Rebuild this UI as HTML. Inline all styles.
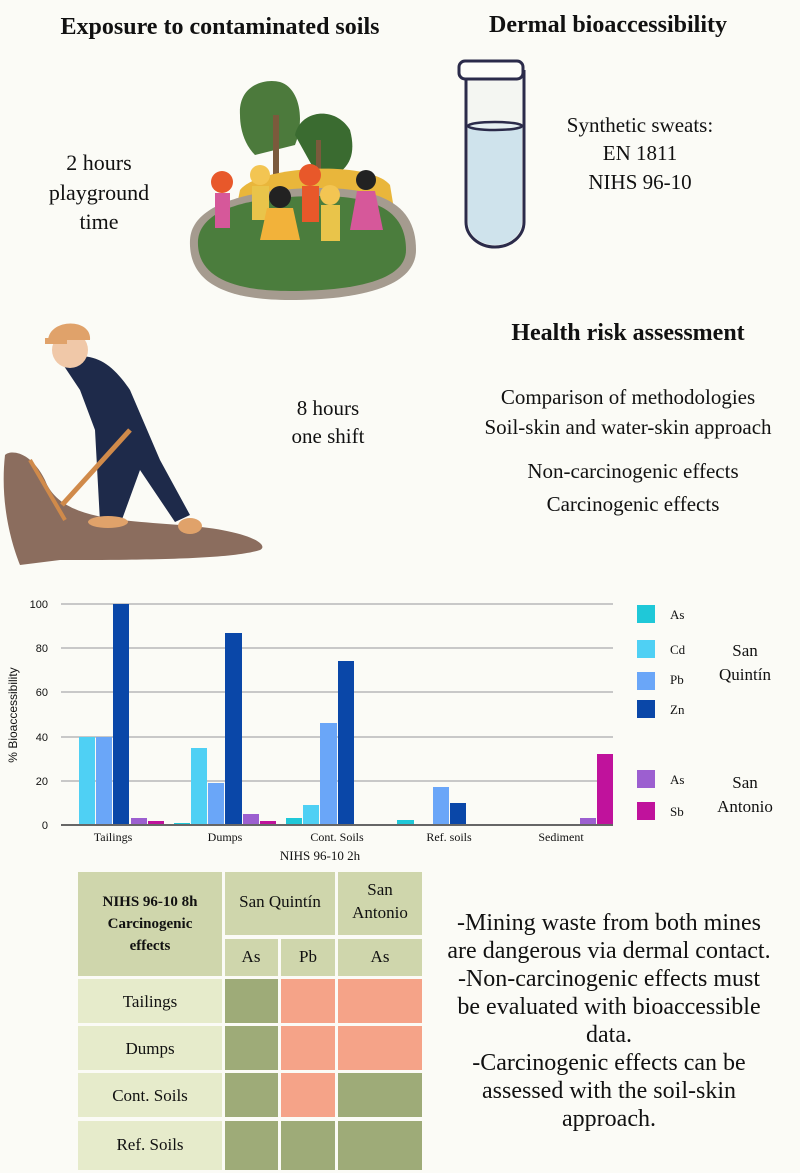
<!DOCTYPE html>
<html><head><meta charset="utf-8"><style>
html,body{margin:0;padding:0;background:#fbfbf6;}
svg{display:block;}
text{font-family:"Liberation Serif",serif;fill:#111;}
</style></head><body>
<svg width="800" height="1173" viewBox="0 0 800 1173" xmlns="http://www.w3.org/2000/svg">
<rect width="800" height="1173" fill="#fbfbf6"/>
<!-- Headings -->
<text x="220" y="34" font-size="24" font-weight="bold" text-anchor="middle">Exposure to contaminated soils</text>
<text x="608" y="32" font-size="24" font-weight="bold" text-anchor="middle">Dermal bioaccessibility</text>
<text x="99" y="170" font-size="22" text-anchor="middle">2 hours</text>
<text x="99" y="200" font-size="22" text-anchor="middle">playground</text>
<text x="99" y="229" font-size="22" text-anchor="middle">time</text>
<text x="640" y="132" font-size="21" text-anchor="middle">Synthetic sweats:</text>
<text x="640" y="160" font-size="21" text-anchor="middle">EN 1811</text>
<text x="640" y="189" font-size="21" text-anchor="middle">NIHS 96-10</text>
<text x="628" y="340" font-size="24" font-weight="bold" text-anchor="middle">Health risk assessment</text>
<text x="628" y="404" font-size="21" text-anchor="middle">Comparison of methodologies</text>
<text x="628" y="434" font-size="21" text-anchor="middle">Soil-skin and water-skin approach</text>
<text x="633" y="478" font-size="21" text-anchor="middle">Non-carcinogenic effects</text>
<text x="633" y="511" font-size="21" text-anchor="middle">Carcinogenic effects</text>
<text x="328" y="415" font-size="21" text-anchor="middle">8 hours</text>
<text x="328" y="443" font-size="21" text-anchor="middle">one shift</text>
<!-- test tube -->
<path d="M466 70 L466 222 A29 25 0 0 0 524 222 L524 70" fill="#f4f6f2" stroke="#2b2b4a" stroke-width="3"/>
<path d="M468 126 L522 126 L522 222 A27 23 0 0 1 468 222 Z" fill="#cfe3ec"/>
<ellipse cx="495" cy="126" rx="27" ry="4" fill="#e6f0f2" stroke="#2b2b4a" stroke-width="2.5"/>
<rect x="459" y="61" width="64" height="18" rx="6" fill="#fdfdf9" stroke="#2b2b4a" stroke-width="3"/>
<!-- playground -->
<path d="M240 115 C238 85 265 78 280 82 C300 88 305 120 295 145 L255 155 C245 145 240 130 240 115 Z" fill="#4c7a3c"/>
<path d="M295 135 C300 110 335 105 350 130 C358 160 345 175 320 180 Z" fill="#3a6b30"/>
<rect x="273" y="115" width="6" height="115" fill="#7b5a3c"/>
<rect x="316" y="140" width="5" height="90" fill="#7b5a3c"/>
<path d="M240 190 C260 165 370 160 390 185 L395 215 L235 215 Z" fill="#e9b63b"/>
<path d="M190 240 C192 195 280 188 320 188 C390 188 416 210 416 250 C416 290 350 300 290 300 C230 300 188 285 190 240 Z" fill="#a59b8f"/>
<path d="M198 240 C202 200 280 196 320 196 C382 196 406 215 406 250 C406 283 345 291 290 291 C235 291 196 278 198 240 Z" fill="#4b7d3d"/>
<circle cx="222" cy="182" r="11" fill="#e8582a"/><rect x="215" y="193" width="15" height="35" fill="#d6589a"/>
<circle cx="260" cy="175" r="10" fill="#f3c552"/><rect x="252" y="186" width="17" height="34" fill="#e9c44a"/>
<circle cx="280" cy="197" r="11" fill="#222"/><path d="M267 208 L293 208 L300 240 L260 240Z" fill="#f2b23a"/>
<circle cx="310" cy="175" r="11" fill="#e8582a"/><rect x="302" y="186" width="17" height="36" fill="#e8582a"/>
<circle cx="330" cy="195" r="10" fill="#f3c552"/><rect x="321" y="205" width="19" height="36" fill="#e9c44a"/>
<circle cx="366" cy="180" r="10" fill="#222"/><path d="M357 191 L375 191 L383 230 L350 230Z" fill="#d6589a"/>
<!-- worker -->
<path d="M5 455 C10 450 30 450 45 480 C60 520 120 520 180 525 C250 530 270 545 260 550 C230 560 130 560 60 560 L20 565 C10 540 0 500 5 455Z" fill="#8b6d5e"/>
<path d="M60 360 C90 350 110 360 130 390 L160 460 L190 515 L175 522 L140 470 L120 525 L100 522 L95 430 L80 390 Z" fill="#1e2a4a"/>
<circle cx="70" cy="350" r="18" fill="#f0c8a8"/>
<path d="M48 340 C50 318 92 318 90 340 Z" fill="#e0a26a"/>
<rect x="45" y="338" width="22" height="6" fill="#e0a26a"/>
<line x1="130" y1="430" x2="62" y2="505" stroke="#d08a4a" stroke-width="5"/>
<line x1="30" y1="460" x2="65" y2="520" stroke="#d08a4a" stroke-width="4"/>
<ellipse cx="108" cy="522" rx="20" ry="6" fill="#e0a26a"/>
<ellipse cx="190" cy="526" rx="12" ry="8" fill="#e0a26a"/>
<!-- Chart -->
<g stroke="#c8c8c8" stroke-width="2">
<line x1="61" y1="604" x2="613" y2="604"/><line x1="61" y1="648" x2="613" y2="648"/>
<line x1="61" y1="692" x2="613" y2="692"/><line x1="61" y1="737" x2="613" y2="737"/>
<line x1="61" y1="781" x2="613" y2="781"/>
</g>
<g font-size="11" text-anchor="end">
<text x="48" y="608" style="font-family:'Liberation Sans',sans-serif">100</text>
<text x="48" y="652" style="font-family:'Liberation Sans',sans-serif">80</text>
<text x="48" y="696" style="font-family:'Liberation Sans',sans-serif">60</text>
<text x="48" y="741" style="font-family:'Liberation Sans',sans-serif">40</text>
<text x="48" y="785" style="font-family:'Liberation Sans',sans-serif">20</text>
<text x="48" y="829" style="font-family:'Liberation Sans',sans-serif">0</text>
</g>
<text transform="translate(17,715) rotate(-90)" font-size="12" text-anchor="middle" style="font-family:'Liberation Sans',sans-serif">% Bioaccessibility</text>
<g>
<rect x="79" y="737" width="16" height="88" fill="#4fd0f4"/>
<rect x="96" y="737" width="16" height="88" fill="#6aa6f8"/>
<rect x="113" y="604" width="16" height="221" fill="#0a47a8"/>
<rect x="131" y="818" width="16" height="7" fill="#9c5fd0"/>
<rect x="148" y="821" width="16" height="4" fill="#c0129c"/>
<rect x="174" y="823" width="16" height="2" fill="#1fc8d8"/>
<rect x="191" y="748" width="16" height="77" fill="#4fd0f4"/>
<rect x="208" y="783" width="16" height="42" fill="#6aa6f8"/>
<rect x="225" y="633" width="17" height="192" fill="#0a47a8"/>
<rect x="243" y="814" width="16" height="11" fill="#9c5fd0"/>
<rect x="260" y="821" width="16" height="4" fill="#c0129c"/>
<rect x="286" y="818" width="16" height="7" fill="#1fc8d8"/>
<rect x="303" y="805" width="16" height="20" fill="#4fd0f4"/>
<rect x="320" y="723" width="17" height="102" fill="#6aa6f8"/>
<rect x="338" y="661" width="16" height="164" fill="#0a47a8"/>
<rect x="397" y="820" width="17" height="5" fill="#1fc8d8"/>
<rect x="433" y="787" width="16" height="38" fill="#6aa6f8"/>
<rect x="450" y="803" width="16" height="22" fill="#0a47a8"/>
<rect x="580" y="818" width="16" height="7" fill="#9c5fd0"/>
<rect x="597" y="754" width="16" height="71" fill="#c0129c"/>
</g>
<line x1="61" y1="825" x2="613" y2="825" stroke="#666" stroke-width="2"/>
<g font-size="12" text-anchor="middle">
<text x="113" y="841">Tailings</text><text x="225" y="841">Dumps</text><text x="337" y="841">Cont. Soils</text>
<text x="449" y="841">Ref. soils</text><text x="561" y="841">Sediment</text>
<text x="320" y="860" font-size="13">NIHS 96-10 2h</text>
</g>
<rect x="637" y="605" width="18" height="18" fill="#1fc8d8"/>
<rect x="637" y="640" width="18" height="18" fill="#4fd0f4"/>
<rect x="637" y="672" width="18" height="18" fill="#6aa6f8"/>
<rect x="637" y="700" width="18" height="18" fill="#0a47a8"/>
<rect x="637" y="770" width="18" height="18" fill="#9c5fd0"/>
<rect x="637" y="802" width="18" height="18" fill="#c0129c"/>
<g font-size="13">
<text x="670" y="619">As</text><text x="670" y="654">Cd</text><text x="670" y="684">Pb</text>
<text x="670" y="714">Zn</text><text x="670" y="784">As</text><text x="670" y="816">Sb</text>
</g>
<g font-size="17" text-anchor="middle">
<text x="745" y="656">San</text><text x="745" y="680">Quintín</text>
<text x="745" y="788">San</text><text x="745" y="812">Antonio</text>
</g>
<!-- table -->
<g>
<rect x="78" y="872" width="144" height="104" fill="#cfd6ac"/>
<rect x="225" y="872" width="110" height="63" fill="#cfd6ac"/>
<rect x="338" y="872" width="84" height="63" fill="#cfd6ac"/>
<rect x="225" y="939" width="53" height="37" fill="#cfd6ac"/>
<rect x="281" y="939" width="54" height="37" fill="#cfd6ac"/>
<rect x="338" y="939" width="84" height="37" fill="#cfd6ac"/>
<rect x="78" y="979" width="144" height="44" fill="#e6ebcb"/>
<rect x="78" y="1026" width="144" height="44" fill="#e6ebcb"/>
<rect x="78" y="1073" width="144" height="44" fill="#e6ebcb"/>
<rect x="78" y="1121" width="144" height="49" fill="#e6ebcb"/>
<rect x="225" y="979" width="53" height="44" fill="#9eab78"/>
<rect x="225" y="1026" width="53" height="44" fill="#9eab78"/>
<rect x="225" y="1073" width="53" height="44" fill="#9eab78"/>
<rect x="225" y="1121" width="53" height="49" fill="#9eab78"/>
<rect x="281" y="979" width="54" height="44" fill="#f5a388"/>
<rect x="281" y="1026" width="54" height="44" fill="#f5a388"/>
<rect x="281" y="1073" width="54" height="44" fill="#f5a388"/>
<rect x="281" y="1121" width="54" height="49" fill="#9eab78"/>
<rect x="338" y="979" width="84" height="44" fill="#f5a388"/>
<rect x="338" y="1026" width="84" height="44" fill="#f5a388"/>
<rect x="338" y="1073" width="84" height="44" fill="#9eab78"/>
<rect x="338" y="1121" width="84" height="49" fill="#9eab78"/>
</g>
<g font-size="15" text-anchor="middle" font-weight="bold">
<text x="150" y="906">NIHS 96-10 8h</text><text x="150" y="928">Carcinogenic</text><text x="150" y="950">effects</text>
</g>
<g font-size="17" text-anchor="middle">
<text x="280" y="907">San Quintín</text>
<text x="380" y="895">San</text><text x="380" y="918">Antonio</text>
<text x="251" y="962">As</text><text x="308" y="962">Pb</text><text x="380" y="962">As</text>
<text x="150" y="1007">Tailings</text><text x="150" y="1054">Dumps</text>
<text x="150" y="1101">Cont. Soils</text><text x="150" y="1150">Ref. Soils</text>
</g>
<g font-size="24" text-anchor="middle">
<text x="609" y="930">-Mining waste from both mines</text>
<text x="609" y="958">are dangerous via dermal contact.</text>
<text x="609" y="986">-Non-carcinogenic effects must</text>
<text x="609" y="1014">be evaluated with bioaccessible</text>
<text x="609" y="1042">data.</text>
<text x="609" y="1070">-Carcinogenic effects can be</text>
<text x="609" y="1098">assessed with the soil-skin</text>
<text x="609" y="1126">approach.</text>
</g>
</svg>
</body></html>
